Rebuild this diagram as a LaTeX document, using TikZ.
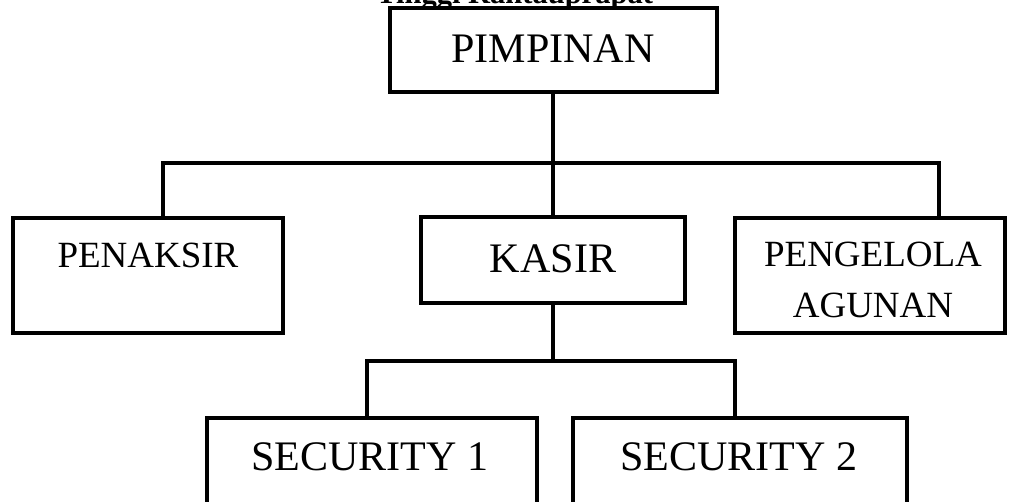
\documentclass[tikz,border=0pt]{standalone}
\usepackage{fontspec}
\setmainfont{Liberation Serif}
\usetikzlibrary{positioning}

\tikzset{
  kotak/.style={draw, line width=2.85pt, outer sep=0pt, inner sep=0pt},
  garis/.style={line width=2.85pt},
  teksbesar/.style={font=\fontsize{29.9}{36}\selectfont, anchor=base, inner sep=0pt},
  tekskecil/.style={font=\fontsize{26.3}{35.6}\selectfont, anchor=base, inner sep=0pt, align=center},
}

\begin{document}
\begin{tikzpicture}[x=0.025cm, y=-0.025cm]
    \useasboundingbox (0,0) rectangle (1011,501);

    % judul (terpotong di atas)
    \node[font=\fontsize{21.7}{26}\selectfont\bfseries, anchor=base west, inner sep=0pt] (judul) at (376,3.5) {Tinggi Rantauprapat};

    % kotak
    \node[kotak, minimum width=327*0.025cm, minimum height=84*0.025cm] (pimpinan) at (553,50) {};
    \node[kotak, minimum width=270*0.025cm, minimum height=115*0.025cm] (penaksir) at (148,275.5) {};
    \node[kotak, minimum width=264*0.025cm, minimum height=86*0.025cm] (kasir) at (553,260) {};
    \node[kotak, minimum width=270*0.025cm, minimum height=115*0.025cm] (pengelola) at (870,275.5) {};
    \node[kotak, minimum width=330*0.025cm, minimum height=102*0.025cm] (sec1) at (372,469) {};
    \node[kotak, minimum width=334*0.025cm, minimum height=102*0.025cm] (sec2) at (740,469) {};

    % teks
    \node[teksbesar] (tpimpinan) at (553,62) {PIMPINAN};
    \node[tekskecil] (tpenaksir) at (148,267) {PENAKSIR};
    \node[teksbesar] (tkasir) at (553,272) {KASIR};
    \node[tekskecil] (tpengelola) at (873,317) {PENGELOLA\\AGUNAN};
    \node[teksbesar] (tsec1) at (370,470) {SECURITY 1};
    \node[teksbesar] (tsec2) at (739,470) {SECURITY 2};

    % titik cabang
    \coordinate (busL) at (163,163);
    \coordinate (busR) at (939,163);
    \coordinate (lowL) at (367,361);
    \coordinate (lowR) at (735,361);

    % garis
    \draw[garis] (pimpinan.south) -- (kasir.north);
    \draw[garis] (busL |- penaksir.north) -- (busL) -- (busR) -- (busR |- pengelola.north);
    \draw[garis] (kasir.south) -- (kasir.south |- lowL);
    \draw[garis] (lowL |- sec1.north) -- (lowL) -- (lowR) -- (lowR |- sec2.north);
\end{tikzpicture}
\end{document}
